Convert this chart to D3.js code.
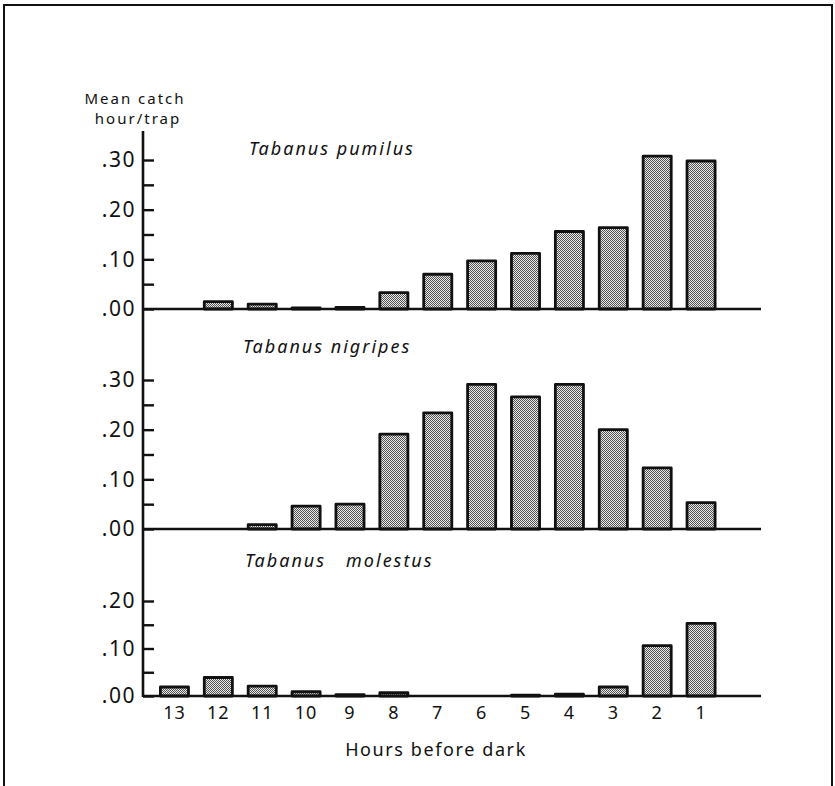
<!DOCTYPE html>
<html>
<head>
<meta charset="utf-8">
<script src="https://cdn.jsdelivr.net/npm/d3@7"></script>
<style>
  html, body { margin: 0; padding: 0; background: #fff; }
  svg { display: block; }
  text { font-family: "Noto Sans", Lato, sans-serif; fill: #111; }
</style>
</head>
<body>
<svg id="chart" width="835" height="786"></svg>
<script>
// Hours before dark (left to right)
const hours = ["13", "12", "11", "10", "9", "8", "7", "6", "5", "4", "3", "2", "1"];

// Mean catch per hour per trap, one array per species
const pumilus  = [0.000, 0.015, 0.010, 0.002, 0.003, 0.033, 0.070, 0.097, 0.112, 0.156, 0.164, 0.308, 0.298];
const nigripes = [0.000, 0.000, 0.009, 0.046, 0.050, 0.191, 0.234, 0.291, 0.266, 0.291, 0.200, 0.123, 0.053];
const molestus = [0.019, 0.039, 0.021, 0.009, 0.003, 0.007, 0.000, 0.000, 0.002, 0.004, 0.019, 0.106, 0.153];

const speciesNames = ["Tabanus pumilus", "Tabanus nigripes", "Tabanus molestus"];

// Axis tick values per panel
const ticksMajorTall = [0, 0.1, 0.2, 0.3];
const ticksMinorTall = [0.05, 0.15, 0.25];
const ticksMajorShort = [0, 0.1, 0.2];
const ticksMinorShort = [0.05, 0.15];

const svg = d3.select("#chart");

// Outer frame
svg.append("rect")
  .attr("x", 4).attr("y", 5).attr("width", 828).attr("height", 800)
  .attr("fill", "none").attr("stroke", "#111").attr("stroke-width", 2);

// Stippled fill for the bars (fine checker dots)
const defs = svg.append("defs");
const pat = defs.append("pattern")
  .attr("id", "stipple").attr("patternUnits", "userSpaceOnUse")
  .attr("width", 2).attr("height", 2);
pat.append("rect").attr("width", 2).attr("height", 2).attr("fill", "#ececec");
pat.append("rect").attr("x", 0).attr("y", 0).attr("width", 1).attr("height", 1).attr("fill", "#505050");
pat.append("rect").attr("x", 1).attr("y", 1).attr("width", 1).attr("height", 1).attr("fill", "#505050");

const axisX = 143, axisRight = 761;

const x = d3.scaleBand().domain(hours).range([152.5, 723]).paddingInner(0.36).paddingOuter(0.18);

const panels = [
  { name: speciesNames[0], values: pumilus,  y: d3.scaleLinear().domain([0, 0.3]).range([309, 160]),
    major: ticksMajorTall, minor: ticksMinorTall, title: [249, 155] },
  { name: speciesNames[1], values: nigripes, y: d3.scaleLinear().domain([0, 0.3]).range([529, 380]),
    major: ticksMajorTall, minor: ticksMinorTall, title: [243, 353] },
  { name: speciesNames[2], values: molestus, y: d3.scaleLinear().domain([0, 0.2]).range([696, 601]),
    major: ticksMajorShort, minor: ticksMinorShort, title: [245, 567] }
];

const fmt = d => d3.format(".2f")(d).replace(/^0/, "");

// Continuous vertical axis line
svg.append("line")
  .attr("x1", axisX).attr("x2", axisX).attr("y1", 131).attr("y2", 697)
  .attr("stroke", "#111").attr("stroke-width", 2.6);

panels.forEach((p, i) => {
  const g = svg.append("g");

  // Tick marks (to the right of the axis)
  const tickAxis = g.append("g").attr("transform", `translate(${axisX},0)`)
    .call(d3.axisRight(p.y).tickValues(p.major.concat(p.minor)).tickSize(11).tickFormat(""));
  tickAxis.select(".domain").remove();
  tickAxis.selectAll(".tick line").attr("stroke", "#111").attr("stroke-width", 2.4);

  // Tick labels
  const labelAxis = g.append("g").attr("transform", `translate(${axisX},0)`)
    .call(d3.axisLeft(p.y).tickValues(p.major).tickSize(0).tickPadding(7).tickFormat(fmt));
  labelAxis.select(".domain").remove();
  labelAxis.selectAll(".tick text")
    .attr("font-size", 21).attr("letter-spacing", "1.5px")
    .style("font-family", "'Noto Sans', Lato, sans-serif").attr("fill", "#111");

  // Bars (zero-valued hours get no bar)
  const rows = hours.map((h, j) => ({ hour: h, value: p.values[j] })).filter(r => r.value > 0);
  g.selectAll("rect.bar").data(rows).join("rect")
    .attr("class", "bar")
    .attr("x", r => x(r.hour))
    .attr("y", r => p.y(r.value))
    .attr("width", x.bandwidth())
    .attr("height", r => p.y(0) - p.y(r.value))
    .attr("fill", "url(#stipple)")
    .attr("stroke", "#111").attr("stroke-width", 2.8).attr("stroke-linejoin", "round");

  // Baseline
  g.append("line")
    .attr("x1", axisX).attr("x2", axisRight)
    .attr("y1", p.y(0)).attr("y2", p.y(0))
    .attr("stroke", "#111").attr("stroke-width", 2.6);

  // Species title
  g.append("text")
    .attr("x", p.title[0]).attr("y", p.title[1])
    .attr("font-size", 18).attr("font-style", "italic").attr("letter-spacing", "2px")
    .style("white-space", "pre")
    .text(i === 2 ? p.name.replace(" ", "   ") : p.name);
});

// Bottom category axis
const xAxis = svg.append("g").attr("transform", `translate(0,${panels[2].y(0)})`)
  .call(d3.axisBottom(x).tickSize(0).tickPadding(10));
xAxis.select(".domain").remove();
xAxis.selectAll(".tick text")
  .attr("font-size", 18).attr("letter-spacing", "1px")
  .style("font-family", "'Noto Sans', Lato, sans-serif").attr("fill", "#111");

// Y-axis title, two lines
svg.append("text").attr("x", 135).attr("y", 104).attr("text-anchor", "middle")
  .attr("font-size", 15).attr("letter-spacing", "2px").text("Mean catch");
svg.append("text").attr("x", 138).attr("y", 124).attr("text-anchor", "middle")
  .attr("font-size", 15).attr("letter-spacing", "2px").text("hour/trap");

// X-axis title
svg.append("text").attr("x", 436).attr("y", 756).attr("text-anchor", "middle")
  .attr("font-size", 18).attr("letter-spacing", "1.6px").text("Hours before dark");
</script>
</body>
</html>
